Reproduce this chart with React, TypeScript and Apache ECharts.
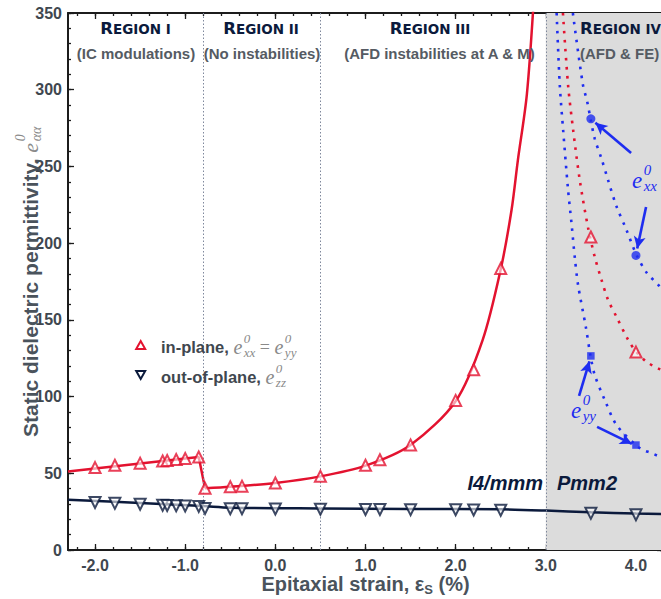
import React, { useEffect, useRef } from 'react';
import * as echarts from 'echarts';

// ---------------- data ----------------
const xMajor = [-2, -1, 0, 1, 2, 3, 4];
const yMajor = [0, 50, 100, 150, 200, 250, 300, 350];

// in-plane (symbols)
const inPlaneX = [-2.0, -1.78, -1.5, -1.25, -1.2, -1.1, -1.0, -0.85, -0.78, -0.5, -0.37, 0.0, 0.5, 1.0, 1.16, 1.5, 2.0, 2.2, 2.5];
const inPlaneY = [53.7, 55.2, 56.6, 58, 58.3, 59, 59.6, 60.6, 40.2, 41.2, 41.6, 43.7, 48, 55.2, 58.8, 68.5, 97.5, 117.5, 183.5];
// in-plane fit line (left branch and divergent branch)
const inPlaneLineLeftX = [-2.3, -0.85, -0.78];
const inPlaneLineLeftY = [51.2, 60.6, 40.2];
const inPlaneCurveX = [-0.78, -0.5, 0.0, 0.5, 1.0, 1.5, 2.0, 2.3, 2.5, 2.62, 2.69, 2.79, 2.87];
const inPlaneCurveY = [40.2, 41.2, 43.7, 48, 55, 68.5, 97, 137, 183, 221.6, 254, 297, 362];

// out-of-plane (symbols)
const outPlaneX = [-2.0, -1.78, -1.5, -1.25, -1.2, -1.1, -1.0, -0.85, -0.78, -0.5, -0.37, 0.0, 0.5, 1.0, 1.16, 1.5, 2.0, 2.2, 2.5, 3.5, 4.0];
const outPlaneY = [31, 30.4, 29.8, 29.1, 29, 28.8, 28.7, 28.4, 27.1, 26.9, 26.9, 26.7, 26.6, 26.4, 26.4, 26.3, 26.2, 26.1, 25.9, 23.9, 23];
// out-of-plane fit line
const outLineX = [-2.3, -1.5, -0.8, -0.5, 0.5, 1.5, 2.5, 3.0, 3.5, 4.0, 4.3];
const outLineY = [32.8, 30.6, 28.6, 27.6, 27.1, 26.8, 26.5, 25.7, 24.6, 23.8, 23.4];

// Region IV (Pmm2) dotted curves
const eyyCurveX = [3.12, 3.155, 3.192, 3.247, 3.285, 3.321, 3.358, 3.445, 3.496, 3.543, 3.654, 3.784, 3.998, 4.079, 4.172, 4.264, 4.3];
const eyyCurveY = [350, 303, 274, 234.7, 213, 191, 172.7, 145, 126.5, 114, 97.8, 81.5, 68.4, 65.2, 63.2, 60.8, 60];
const ipCurveX = [3.19, 3.247, 3.303, 3.377, 3.469, 3.543, 3.618, 3.691, 3.784, 3.913, 4.006, 4.117, 4.245, 4.3];
const ipCurveY = [350, 303, 274, 241, 210, 191, 176, 163, 152, 137, 129, 122.7, 118.4, 117];
const exxCurveX = [3.3, 3.41, 3.46, 3.496, 3.543, 3.618, 3.691, 3.784, 3.895, 4.006, 4.123, 4.245, 4.3];
const exxCurveY = [350, 303.8, 292, 281, 268, 255, 241, 224, 208.6, 192.3, 180.4, 173, 169];

// Region IV symbols
const exxX = [3.5, 4.0];
const exxY = [281, 192];
const eyyX = [3.5, 4.0];
const eyyY = [126.5, 68.4];
const ipIVX = [3.5, 4.0];
const ipIVY = [204, 129];

// region boundaries (strain, %)
const regionBounds = [-0.8, 0.5, 3.0];

// ---------------- style ----------------
const X_MIN = -2.3;
const X_MAX = 4.3;
const Y_MIN = 0;
const Y_MAX = 350;
const RED = '#e3122f';
const NAVY = '#0b1a3c';
const BLUE = '#1e2df0';
const AXIS = '#1c1c1c';
const TICK = '#3f474f';
const TITLE = '#4a535c';
const MATH = '#8a8a8a';
const SANS = '"Liberation Sans", Arial, Helvetica, sans-serif';
const WIDE = '"DejaVu Sans", "Liberation Sans", sans-serif';
const SERIF = '"Liberation Serif", "Times New Roman", serif';

const zip = (xs: number[], ys: number[]) => xs.map((x, i) => [x, ys[i]]);
const range = (a: number, b: number, s: number) => {
  const out: number[] = [];
  for (let v = a; v <= b + 1e-9; v += s) out.push(Math.round(v * 1000) / 1000);
  return out;
};
const xMinor = range(-2.2, 4.2, 0.2);
const yMinor = range(0, 350, 10);

type Part = {
  t: string; size: number; bold?: boolean; italic?: boolean; serif?: boolean; wide?: boolean;
  dy?: number; dx?: number; color?: string; stack?: boolean;
};
const fontOf = (p: Part) =>
  `${p.italic ? 'italic ' : ''}${p.bold ? 'bold ' : ''}${p.size}px ${p.serif ? SERIF : p.wide ? WIDE : SANS}`;
let mctx: CanvasRenderingContext2D | null = null;
function measure(p: Part) {
  if (!mctx) mctx = document.createElement('canvas').getContext('2d');
  mctx!.font = fontOf(p);
  return mctx!.measureText(p.t).width;
}
function runs(parts: Part[], x0: number, y0: number, align: 'left' | 'center' | 'right', color: string) {
  let cursor = 0, prevStart = 0, prevAdv = 0;
  const placed: { p: Part; s: number }[] = [];
  for (const p of parts) {
    const w = measure(p);
    if (p.stack) {
      placed.push({ p, s: prevStart + (p.dx || 0) });
      prevAdv = Math.max(prevAdv, w + (p.dx || 0));
      cursor = prevStart + prevAdv;
    } else {
      prevStart = cursor + (p.dx || 0);
      prevAdv = w;
      placed.push({ p, s: prevStart });
      cursor = prevStart + w;
    }
  }
  const off = align === 'center' ? -cursor / 2 : align === 'right' ? -cursor : 0;
  return placed.map(({ p, s }) => ({
    type: 'text',
    x: x0 + off + s,
    y: y0 + (p.dy || 0),
    silent: true,
    z: 100,
    style: {
      text: p.t,
      font: fontOf(p),
      fill: p.color || color,
      textAlign: 'left',
      textVerticalAlign: 'middle',
      align: 'left',
      verticalAlign: 'middle',
    },
  }));
}

const regionTitle = (roman: string, x: number, y: number, align: 'left' | 'center') =>
  runs([
    { t: 'R', size: 16.5, bold: true, wide: true },
    { t: 'EGION ' + roman, size: 13.5, bold: true, wide: true, dy: 1.1 },
  ], x, y, align, NAVY);

function xAx(position: string, ticks: number[], len: number, showLine: boolean, labels: boolean) {
  return {
    type: 'value', min: X_MIN, max: X_MAX, position,
    axisLine: { show: showLine, onZero: false, lineStyle: { color: AXIS, width: 2 } },
    axisTick: { show: true, inside: true, length: len, customValues: ticks, lineStyle: { color: AXIS, width: 1.3 } },
    axisLabel: labels
      ? { show: true, customValues: xMajor, formatter: (v: number) => v.toFixed(1), margin: 7, color: TICK, fontSize: 16, fontWeight: 'bold', fontFamily: SANS }
      : { show: false },
    splitLine: { show: false },
    minorTick: { show: false },
  };
}
function yAx(position: string, ticks: number[], len: number, showLine: boolean, labels: boolean) {
  return {
    type: 'value', min: Y_MIN, max: Y_MAX, position,
    axisLine: { show: showLine, onZero: false, lineStyle: { color: AXIS, width: 2 } },
    axisTick: { show: true, inside: true, length: len, customValues: ticks, lineStyle: { color: AXIS, width: 1.3 } },
    axisLabel: labels
      ? { show: true, customValues: yMajor, formatter: (v: number) => String(v), margin: 6, color: TICK, fontSize: 16, fontWeight: 'bold', fontFamily: SANS }
      : { show: false },
    splitLine: { show: false },
    minorTick: { show: false },
  };
}

function buildOption() {
  const graphics: any[] = [];
  // region headings
  graphics.push(...regionTitle('I', 135.5, 28, 'center'));
  graphics.push(...regionTitle('II', 261, 28, 'center'));
  graphics.push(...regionTitle('III', 430, 28, 'center'));
  graphics.push(...regionTitle('IV', 580, 28, 'left'));
  const sub = (t: string, x: number, align: 'left' | 'center') =>
    runs([{ t, size: 15, bold: true }], x, 53.5, align, '#555b63');
  graphics.push(...sub('(IC modulations)', 136, 'center'));
  graphics.push(...sub('(No instabilities)', 262, 'center'));
  graphics.push(...sub('(AFD instabilities at A & M)', 440, 'center'));
  graphics.push(...sub('(AFD & FE)', 580, 'left'));

  // phase labels
  graphics.push(...runs([{ t: 'I4/mmm', size: 20, bold: true, italic: true }], 543, 483, 'right', NAVY));
  graphics.push(...runs([{ t: 'Pmm2', size: 20, bold: true, italic: true }], 557, 483, 'left', NAVY));

  // legend
  graphics.push({
    type: 'polygon', silent: true, z: 100,
    shape: { points: [[136.2, 349], [145.2, 349], [140.7, 341]] },
    style: { fill: '#ffffff', stroke: RED, lineWidth: 2 },
  });
  graphics.push({
    type: 'polygon', silent: true, z: 100,
    shape: { points: [[136.2, 371], [145.2, 371], [140.7, 379]] },
    style: { fill: '#ffffff', stroke: NAVY, lineWidth: 2 },
  });
  const eParts = (subTxt: string, color: string, size = 20): Part[] => [
    { t: 'e', size, italic: true, serif: true, color },
    { t: '0', size: size * 0.65, italic: true, serif: true, dy: -0.45 * size, dx: 1.5, color },
    { t: subTxt, size: size * 0.65, italic: true, serif: true, dy: 0.27 * size, stack: true, color },
  ];
  graphics.push(...runs([
    { t: 'in-plane, ', size: 16.5, bold: true },
    ...eParts('xx', MATH),
    { t: ' = ', size: 18, serif: true, color: MATH },
    ...eParts('yy', MATH),
  ], 161, 347, 'left', TICK));
  graphics.push(...runs([
    { t: 'out-of-plane, ', size: 16.5, bold: true },
    ...eParts('zz', MATH),
  ], 161, 377, 'left', TICK));

  // e_xx / e_yy annotation labels
  graphics.push(...runs(eParts('xx', BLUE, 23), 632, 180, 'left', BLUE));
  graphics.push(...runs(eParts('yy', BLUE, 23), 571, 410, 'left', BLUE));

  // axis titles
  graphics.push(...runs([
    { t: 'Epitaxial strain, ε', size: 20, bold: true },
    { t: 'S', size: 13, bold: true, dy: 5 },
    { t: ' (%)', size: 20, bold: true },
  ], 365.5, 584, 'center', TITLE));
  graphics.push({
    type: 'group', x: 30, y: 437, rotation: Math.PI / 2, silent: true, z: 100,
    children: runs([
      { t: 'Static dielectric permittivity, ', size: 21, bold: true },
      { t: 'e', size: 22, italic: true, serif: true, color: MATH },
      { t: '0', size: 14, italic: true, serif: true, dy: -10, dx: 1.5, color: MATH },
      { t: 'αα', size: 14, italic: true, serif: true, dy: 6, stack: true, color: MATH },
    ], 0, 0, 'left', TITLE),
  });

  const hollowTri = (color: string) => ({ color: 'rgba(255,255,255,0.75)', borderColor: color, borderWidth: 2 });

  return {
    animation: false,
    backgroundColor: '#ffffff',
    grid: { left: 68, right: 0, top: 13, bottom: 49, containLabel: false, outerBoundsMode: 'none' },
    xAxis: [
      xAx('bottom', xMajor, 6, true, true),
      xAx('bottom', xMinor, 3, false, false),
      xAx('top', xMajor, 6, true, false),
      xAx('top', xMinor, 3, false, false),
    ],
    yAxis: [
      yAx('left', yMajor, 6, true, true),
      yAx('left', yMinor, 3, false, false),
      yAx('right', yMajor, 6, true, false),
      yAx('right', yMinor, 3, false, false),
    ],
    graphic: { elements: graphics },
    series: [
      {
        name: 'out-of-plane fit', type: 'line', data: zip(outLineX, outLineY), showSymbol: false, silent: true,
        smooth: 0.3, lineStyle: { color: NAVY, width: 2.5 }, z: 3,
        markArea: {
          silent: true, itemStyle: { color: '#dcdcdc' },
          data: [[{ xAxis: regionBounds[2] }, { xAxis: X_MAX }]],
        },
        markLine: {
          silent: true, symbol: ['none', 'none'], label: { show: false },
          lineStyle: { color: '#7f889c', width: 1, type: [1.5, 2] },
          data: regionBounds.map((b) => ({ xAxis: b })),
        },
      },
      {
        name: 'in-plane fit left', type: 'line', data: zip(inPlaneLineLeftX, inPlaneLineLeftY), showSymbol: false, silent: true,
        lineStyle: { color: RED, width: 2.5 }, z: 3,
      },
      {
        name: 'in-plane fit', type: 'line', data: zip(inPlaneCurveX, inPlaneCurveY), showSymbol: false, silent: true,
        smooth: 0.3, lineStyle: { color: RED, width: 2.5 }, z: 3,
      },
      {
        name: 'in-plane', type: 'scatter', data: zip(inPlaneX, inPlaneY), symbol: 'triangle', symbolSize: 11, silent: true,
        itemStyle: hollowTri(RED), z: 5,
      },
      {
        name: 'out-of-plane', type: 'scatter', data: zip(outPlaneX, outPlaneY), symbol: 'triangle', symbolRotate: 180, symbolSize: 11, silent: true,
        itemStyle: hollowTri(NAVY), z: 5,
      },
      {
        name: 'e_yy curve', type: 'line', data: zip(eyyCurveX, eyyCurveY), showSymbol: false, silent: true,
        smooth: 0.3, lineStyle: { color: BLUE, width: 2.6, type: [2.6, 6.4] }, z: 4,
      },
      {
        name: 'in-plane Pmm2 curve', type: 'line', data: zip(ipCurveX, ipCurveY), showSymbol: false, silent: true,
        smooth: 0.3, lineStyle: { color: RED, width: 2.6, type: [2.6, 6.4] }, z: 4,
      },
      {
        name: 'e_xx curve', type: 'line', data: zip(exxCurveX, exxCurveY), showSymbol: false, silent: true,
        smooth: 0.3, lineStyle: { color: BLUE, width: 2.6, type: [2.6, 6.4] }, z: 4,
      },
      {
        name: 'e_xx', type: 'scatter', data: zip(exxX, exxY), symbol: 'circle', symbolSize: 9, silent: true,
        itemStyle: { color: BLUE }, z: 6,
        markLine: {
          silent: true, symbol: ['none', 'arrow'], symbolSize: [9, 12], label: { show: false },
          lineStyle: { color: BLUE, width: 2.6, type: 'solid' },
          data: [
            [{ coord: [3.946, 258.8] }, { coord: [3.55, 278.5] }],
            [{ coord: [4.112, 223.6] }, { coord: [4.014, 196.5] }],
          ],
        },
      },
      {
        name: 'e_yy', type: 'scatter', data: zip(eyyX, eyyY), symbol: 'rect', symbolSize: 7.5, silent: true,
        itemStyle: { color: BLUE }, z: 6,
        markLine: {
          silent: true, symbol: ['none', 'arrow'], symbolSize: [9, 12], label: { show: false },
          lineStyle: { color: BLUE, width: 2.6, type: 'solid' },
          data: [
            [{ coord: [3.369, 100.4] }, { coord: [3.484, 123] }],
            [{ coord: [3.569, 80.2] }, { coord: [3.955, 69.2] }],
          ],
        },
      },
      {
        name: 'in-plane Pmm2', type: 'scatter', data: zip(ipIVX, ipIVY), symbol: 'triangle', symbolSize: 11, silent: true,
        itemStyle: hollowTri(RED), z: 6,
      },
    ],
  };
}

export default function App() {
  const ref = useRef<HTMLDivElement>(null);
  useEffect(() => {
    if (!ref.current) return;
    const chart = echarts.init(ref.current, undefined, { renderer: 'svg' });
    chart.setOption(buildOption() as any);
    return () => chart.dispose();
  }, []);
  return (
    <div style={{ position: 'fixed', left: 0, top: 0, width: 661, height: 599, overflow: 'hidden', background: '#fff' }}>
      <div ref={ref} style={{ width: 663, height: 599 }} />
    </div>
  );
}
